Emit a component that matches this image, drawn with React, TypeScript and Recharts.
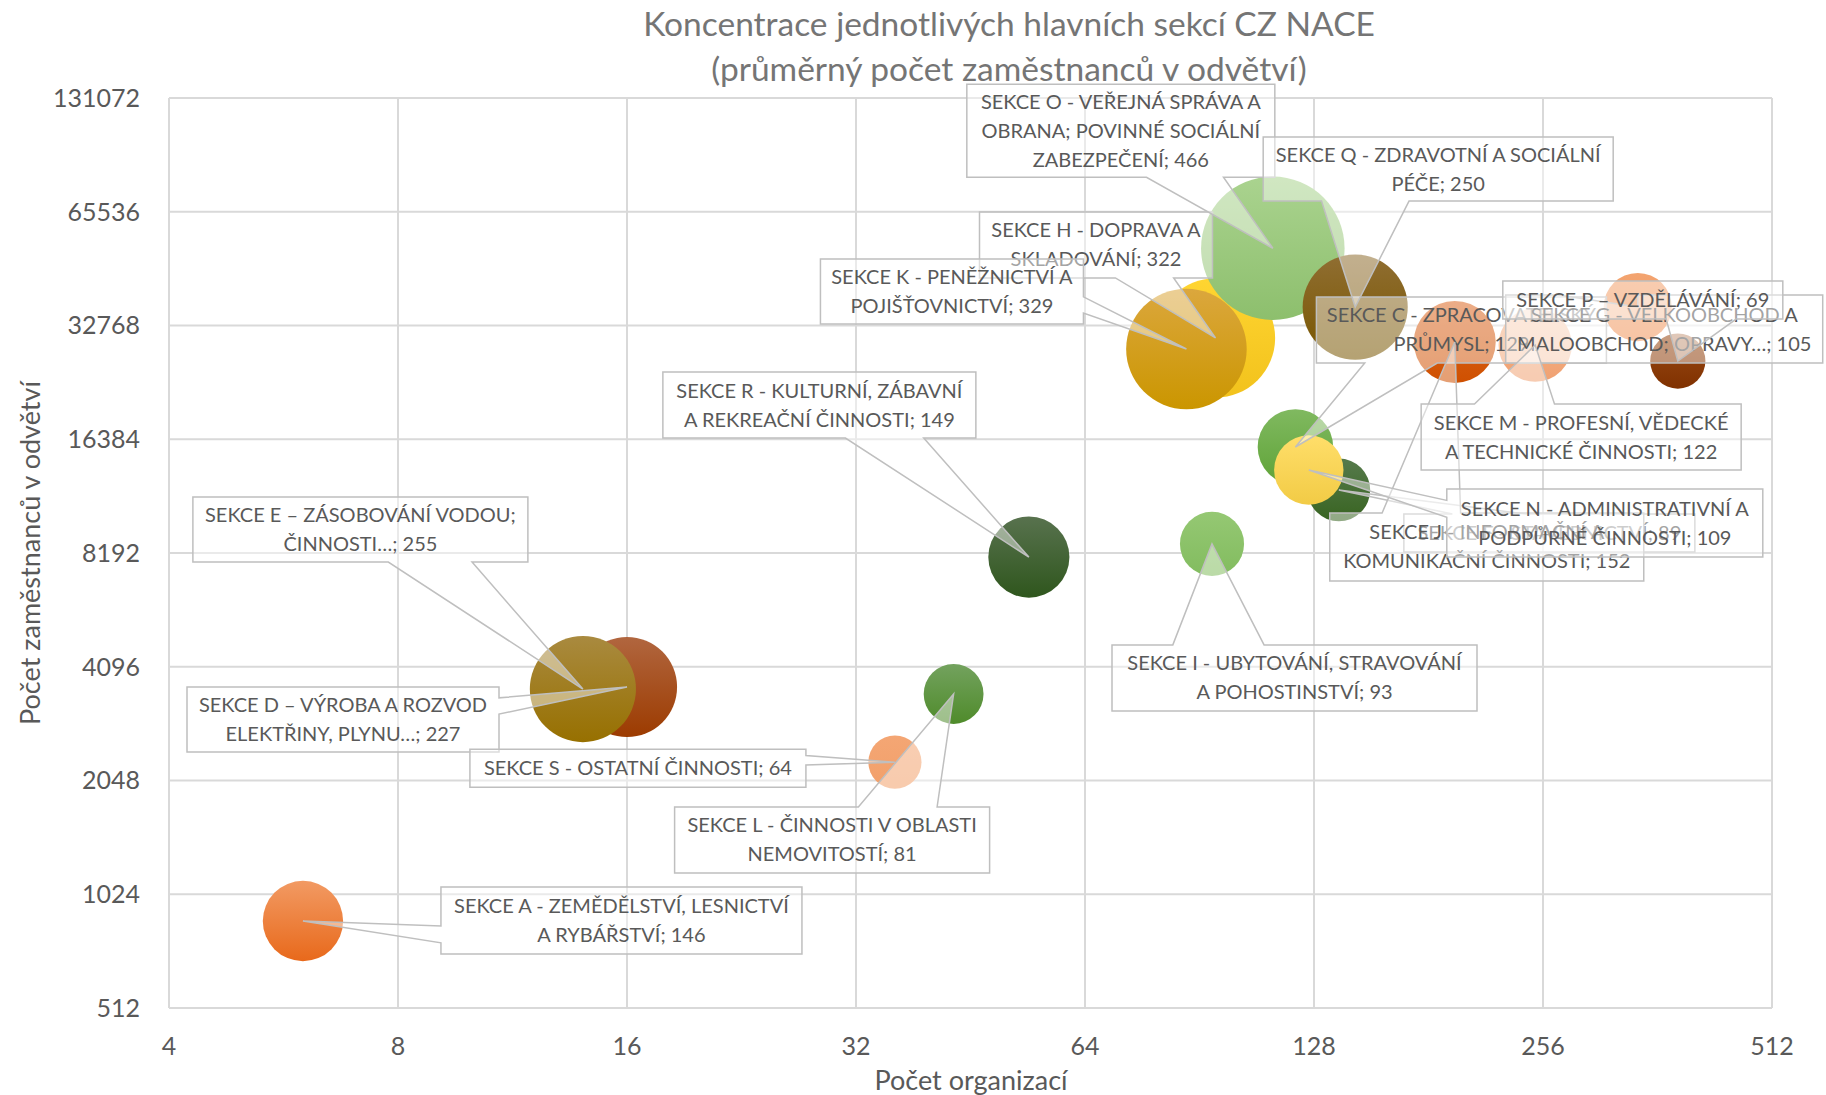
import { ScatterChart, Scatter, XAxis, YAxis, ZAxis, CartesianGrid } from 'recharts';

// CZ NACE sections: number of organisations (x), employees (y), average employees (bubble size)
const SECTIONS = [
  'SEKCE A - ZEMĚDĚLSTVÍ, LESNICTVÍ A RYBÁŘSTVÍ',
  'SEKCE C - ZPRACOVATELSKÝ PRŮMYSL',
  'SEKCE D – VÝROBA A ROZVOD ELEKTŘINY, PLYNU…',
  'SEKCE E – ZÁSOBOVÁNÍ VODOU; ČINNOSTI…',
  'SEKCE F - STAVEBNICTVÍ',
  'SEKCE G - VELKOOBCHOD A MALOOBCHOD; OPRAVY…',
  'SEKCE H - DOPRAVA A SKLADOVÁNÍ',
  'SEKCE I - UBYTOVÁNÍ, STRAVOVÁNÍ A POHOSTINSTVÍ',
  'SEKCE J - INFORMAČNÍ A KOMUNIKAČNÍ ČINNOSTI',
  'SEKCE K - PENĚŽNICTVÍ A POJIŠŤOVNICTVÍ',
  'SEKCE L - ČINNOSTI V OBLASTI NEMOVITOSTÍ',
  'SEKCE M - PROFESNÍ, VĚDECKÉ A TECHNICKÉ ČINNOSTI',
  'SEKCE N - ADMINISTRATIVNÍ A PODPŮRNÉ ČINNOSTI',
  'SEKCE O - VEŘEJNÁ SPRÁVA A OBRANA; POVINNÉ SOCIÁLNÍ ZABEZPEČENÍ',
  'SEKCE P – VZDĚLÁVÁNÍ',
  'SEKCE Q - ZDRAVOTNÍ A SOCIÁLNÍ PÉČE',
  'SEKCE R - KULTURNÍ, ZÁBAVNÍ A REKREAČNÍ ČINNOSTI',
  'SEKCE S - OSTATNÍ ČINNOSTI',
];
const ORGANIZATIONS = [6, 121, 16, 14, 138, 341, 95, 94, 196, 87, 43, 250, 126, 113, 385, 145, 54, 36];
const EMPLOYEES = [870, 15630, 3620, 3575, 12030, 36660, 30370, 8660, 29640, 28400, 3470, 29090, 13580, 52470, 26390, 36660, 7990, 2290];
const AVG_EMPLOYEES = [146, 129, 227, 255, 89, 105, 322, 93, 152, 329, 81, 122, 109, 466, 69, 250, 149, 64];

const X_TICKS = [4, 8, 16, 32, 64, 128, 256, 512];
const Y_TICKS = [512, 1024, 2048, 4096, 8192, 16384, 32768, 65536, 131072];

const data = SECTIONS.map((name, i) => ({
  name,
  x: ORGANIZATIONS[i],
  y: EMPLOYEES[i],
  z: AVG_EMPLOYEES[i],
  idx: i,
}));

// bubble gradient colours (top, bottom)
const COLORS: [string, string][] = [
  ['#F29A63', '#E8691B'],
  ['#80B960', '#5FA337'],
  ['#B1663F', '#9C3B00'],
  ['#A98A3F', '#977000'],
  ['#567A4C', '#386421'],
  ['#F3A470', '#F0955C'],
  ['#FFD531', '#F2C21C'],
  ['#95C873', '#82BC5F'],
  ['#DC6A26', '#CF5000'],
  ['#DBA73D', '#CB9600'],
  ['#73A25E', '#4F8B2B'],
  ['#F5B58A', '#F0A172'],
  ['#FFDE6A', '#F2CB45'],
  ['#AAD38F', '#8DBF6D'],
  ['#9A4A16', '#803100'],
  ['#906E32', '#785600'],
  ['#58724E', '#2F561D'],
  ['#F4A674', '#F2A06A'],
];

// callout box placement relative to the bubble centre; wrap = words per line
const CALLOUTS = [
  { dx: 138, dy: -34, w: 361, h: 67, wrap: [5] },
  { dx: 21, dy: -150, w: 290, h: 66, wrap: [4] },
  { dx: -440, dy: 0, w: 312, h: 65, wrap: [6] },
  { dx: -390, dy: -192, w: 335, h: 65, wrap: [5] },
  { dx: 65, dy: 24, w: 291, h: 38, wrap: [] },
  { dx: -132, dy: -12, w: 317, h: 68, wrap: [5] },
  { dx: -236, dy: -126, w: 233, h: 66, wrap: [5] },
  { dx: -100, dy: 101, w: 365, h: 66, wrap: [5] },
  { dx: -125, dy: 171, w: 314, h: 68, wrap: [5] },
  { dx: -366, dy: -90, w: 263, h: 65, wrap: [5] },
  { dx: -279, dy: 113, w: 315, h: 66, wrap: [6] },
  { dx: -114, dy: 59, w: 320, h: 66, wrap: [5] },
  { dx: 138, dy: 19, w: 316, h: 68, wrap: [5] },
  { dx: -306, dy: -164, w: 308, h: 93, wrap: [6, 3] },
  { dx: -175, dy: -80, w: 280, h: 38, wrap: [] },
  { dx: -92, dy: -170, w: 350, h: 64, wrap: [6] },
  { dx: -366, dy: -185, w: 313, h: 66, wrap: [5] },
  { dx: -425, dy: -13, w: 336, h: 38, wrap: [] },
];

const FONT = 'Lato, "Open Sans", sans-serif';
const TEXT = '#595959';

// same geometry as the office "wedgeRectCallout" shape
function wedgePath(l: number, t: number, w: number, h: number, px: number, py: number) {
  const r = l + w;
  const b = t + h;
  const dx = px - (l + w / 2);
  const dy = py - (t + h / 2);
  const dz = Math.abs(dy) - Math.abs((dx * h) / w);
  if (dz > 0) {
    const x1 = l + (w * (dx > 0 ? 7 : 2)) / 12;
    const x2 = l + (w * (dx > 0 ? 10 : 5)) / 12;
    if (dy > 0) return `M${l},${t}L${r},${t}L${r},${b}L${x2},${b}L${px},${py}L${x1},${b}L${l},${b}Z`;
    return `M${l},${t}L${x1},${t}L${px},${py}L${x2},${t}L${r},${t}L${r},${b}L${l},${b}Z`;
  }
  const y1 = t + (h * (dy > 0 ? 7 : 2)) / 12;
  const y2 = t + (h * (dy > 0 ? 10 : 5)) / 12;
  if (dx > 0) return `M${l},${t}L${r},${t}L${r},${y1}L${px},${py}L${r},${y2}L${r},${b}L${l},${b}Z`;
  return `M${l},${t}L${r},${t}L${r},${b}L${l},${b}L${l},${y2}L${px},${py}L${l},${y1}Z`;
}

function Bubble(props: any) {
  const { cx, cy, size, payload } = props;
  const i = payload.idx;
  const r = Math.sqrt((size ?? 0) / Math.PI);
  const id = `bubble-grad-${i}`;
  return (
    <g>
      <defs>
        <linearGradient id={id} x1="0" y1="0" x2="0" y2="1">
          <stop offset="0" stopColor={COLORS[i][0]} />
          <stop offset="1" stopColor={COLORS[i][1]} />
        </linearGradient>
      </defs>
      <circle cx={cx} cy={cy} r={r} fill={`url(#${id})`} />
    </g>
  );
}

function Callout(props: any) {
  const { cx, cy, payload } = props;
  const c = CALLOUTS[payload.idx];
  const l = cx + c.dx;
  const t = cy + c.dy;
  const words = `${payload.name}; ${payload.z}`.split(' ');
  const lines: string[] = [];
  let p = 0;
  for (const n of c.wrap) {
    lines.push(words.slice(p, p + n).join(' '));
    p += n;
  }
  if (p < words.length) lines.push(words.slice(p).join(' '));
  const mid = t + c.h / 2;
  return (
    <g>
      <path
        d={wedgePath(l, t, c.w, c.h, cx, cy)}
        fill="#ffffff"
        fillOpacity={0.45}
        stroke="#BFBFBF"
        strokeWidth={1.5}
      />
      {lines.map((s, k) => (
        <text
          key={k}
          x={l + c.w / 2}
          y={mid + (k - (lines.length - 1) / 2) * 29 + 7}
          textAnchor="middle"
          fill={TEXT}
          fontSize={20}
          fontFamily={FONT}
        >
          {s}
        </text>
      ))}
    </g>
  );
}

export default function App() {
  const maxSize = Math.max(...AVG_EMPLOYEES);
  return (
    <div style={{ position: 'absolute', left: 0, top: 0, width: 1826, height: 1095, background: '#fff', fontFamily: FONT }}>
      <div
        style={{
          position: 'absolute',
          left: 409,
          top: 1,
          width: 1200,
          textAlign: 'center',
          color: '#757575',
          fontSize: 33.5,
          lineHeight: '45px',
        }}
      >
        Koncentrace jednotlivých hlavních sekcí CZ NACE
        <br />
        (průměrný počet zaměstnanců v odvětví)
      </div>
      <div
        style={{
          position: 'absolute',
          left: 671,
          top: 1065,
          width: 600,
          textAlign: 'center',
          color: TEXT,
          fontSize: 27,
          lineHeight: '30px',
        }}
      >
        Počet organizací
      </div>
      <div
        style={{
          position: 'absolute',
          left: 30 - 300,
          top: 553 - 15,
          width: 600,
          textAlign: 'center',
          color: TEXT,
          fontSize: 27,
          lineHeight: '30px',
          transform: 'rotate(-90deg)',
        }}
      >
        Počet zaměstnanců v odvětví
      </div>
      <div style={{ position: 'absolute', left: 0, top: 0 }}>
        <ScatterChart width={1826} height={1095} margin={{ top: 98, right: 54, bottom: 0, left: 0 }}>
          <CartesianGrid stroke="#D9D9D9" strokeWidth={2} />
          <XAxis
            type="number"
            dataKey="x"
            scale="log"
            domain={[4, 512]}
            ticks={X_TICKS}
            interval={0}
            height={87}
            axisLine={false}
            tickLine={false}
            tickSize={0}
            tickMargin={29}
            tick={{ fill: TEXT, fontSize: 25, fontFamily: FONT }}
          />
          <YAxis
            type="number"
            dataKey="y"
            scale="log"
            domain={[512, 131072]}
            ticks={Y_TICKS}
            interval={0}
            width={169}
            axisLine={false}
            tickLine={false}
            tickSize={0}
            tickMargin={29}
            tick={{ fill: TEXT, fontSize: 25, fontFamily: FONT }}
          />
          <ZAxis type="number" dataKey="z" domain={[0, maxSize]} range={[0, 16170]} />
          <Scatter data={data} isAnimationActive={false} shape={(p: any) => <Bubble {...p} />} />
          <Scatter data={data} isAnimationActive={false} shape={(p: any) => <Callout {...p} />} />
        </ScatterChart>
      </div>
    </div>
  );
}
